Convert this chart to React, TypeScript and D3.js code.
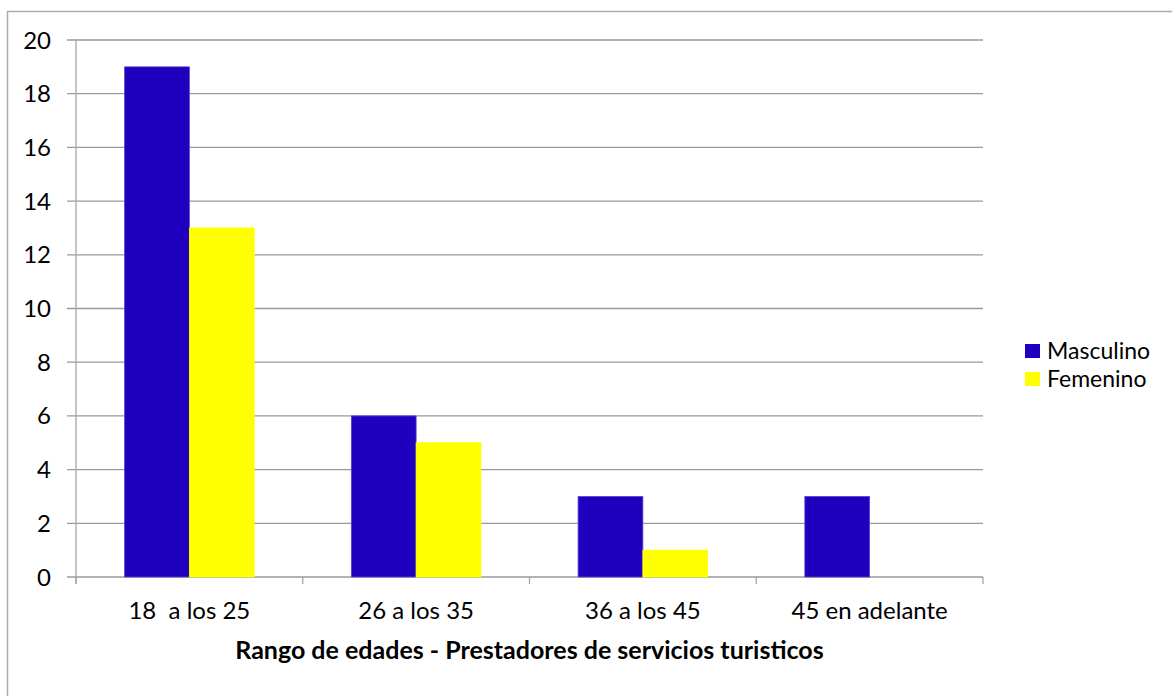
import React from "react";
import * as d3 from "d3";

const categories = ["18  a los 25", "26 a los 35", "36 a los 45", "45 en adelante"];
const seriesNames = ["Masculino", "Femenino"];
const masculino = [19, 6, 3, 3];
const femenino = [13, 5, 1, 0];
const yTicks = [0, 2, 4, 6, 8, 10, 12, 14, 16, 18, 20];
const xTitle = "Rango de edades - Prestadores de servicios turisticos";

const colors = ["#1E00BE", "#FFFF00"];
const strokes = ["#5546d8", "#FFFF00"];

export default function App() {
  const W = 1172, H = 696;
  const left = 76, right = 983, top = 40, bottom = 577;
  const font = "Lato, 'Noto Sans', sans-serif";
  const x = d3.scaleBand<string>().domain(categories).range([left, right]).paddingInner(0).paddingOuter(0);
  const xs = d3.scaleBand<string>().domain(seriesNames).range([0, x.bandwidth()]).paddingInner(0).paddingOuter(0.75);
  const y = d3.scaleLinear().domain([0, 20]).range([bottom, top]);
  const data = [masculino, femenino];
  const boundaries = categories.map((c) => x(c) as number).concat([right]);
  return (
    <svg width={W} height={H} style={{ position: "absolute", left: 0, top: 0, background: "#fff" }} fontFamily={font}>
      <rect x={7.5} y={11.5} width={1300} height={800} fill="#fff" stroke="#ababab" strokeWidth={1.5} />
      {yTicks.map((t) => (
        <g key={t}>
          <line x1={67} x2={right} y1={y(t)} y2={y(t)} stroke="#9a9a9a" strokeWidth={1.3} />
          <text x={51} y={y(t) + 8.5} textAnchor="end" fontSize={24} fill="#000">{t}</text>
        </g>
      ))}
      <line x1={left} x2={left} y1={top} y2={bottom + 7} stroke="#a6a6a6" strokeWidth={1.3} />
      {boundaries.map((b, i) => (
        <line key={i} x1={b} x2={b} y1={bottom} y2={bottom + 7} stroke="#a6a6a6" strokeWidth={1.3} />
      ))}
      {data.map((vals, si) =>
        vals.map((v, ci) => {
          if (v === 0) return null;
          const bx = (x(categories[ci]) as number) + (xs(seriesNames[si]) as number);
          return (
            <rect key={`${si}-${ci}`} x={bx} y={y(v)} width={xs.bandwidth()} height={y(0) - y(v)}
              fill={colors[si]} stroke={strokes[si]} strokeWidth={0.8} />
          );
        })
      )}
      {categories.map((c) => (
        <text key={c} x={(x(c) as number) + x.bandwidth() / 2} y={619} textAnchor="middle" fontSize={24} fill="#000" style={{ whiteSpace: "pre" }}>{c}</text>
      ))}
      <text x={(left + right) / 2} y={659} textAnchor="middle" fontSize={25} fontWeight="bold" fill="#000">{xTitle}</text>
      {seriesNames.map((s, i) => (
        <g key={s}>
          <rect x={1025} y={344 + i * 28} width={15} height={14} fill={colors[i]} />
          <text x={1047} y={359 + i * 28} fontSize={23} fill="#000">{s}</text>
        </g>
      ))}
    </svg>
  );
}
